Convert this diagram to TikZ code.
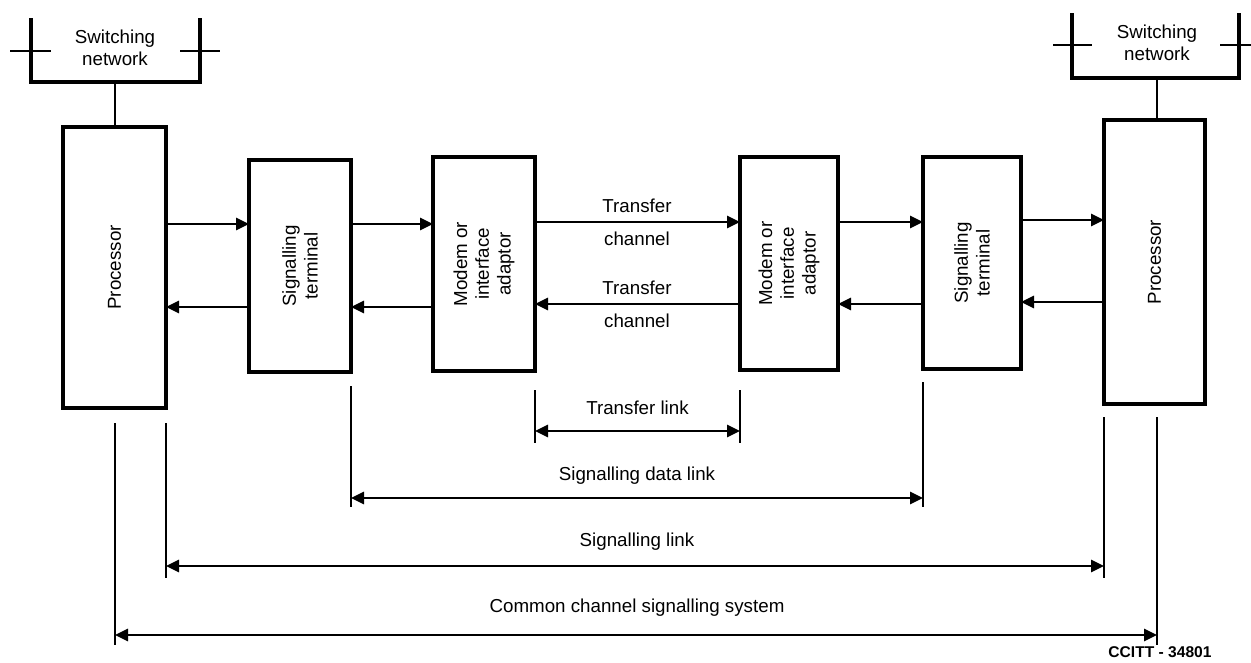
\documentclass[tikz,border=0pt]{standalone}
\usepackage{fontspec}
\setmainfont{Liberation Sans}
\usetikzlibrary{arrows.meta}
\begin{document}
\begin{tikzpicture}[x=0.03cm,y=-0.03cm,
  box/.style={draw,line width=3.2pt,inner sep=0pt,outer sep=0pt},
  boxtext/.style={rotate=90,align=center,font=\fontsize{16pt}{18.5pt}\selectfont,inner sep=0pt},
  lbl/.style={align=center,font=\fontsize{16pt}{18.5pt}\selectfont,inner sep=0pt},
  conn/.style={line width=1.6pt},
  arr/.style={conn,-{Triangle[length=3.9mm,width=3.7mm]}},
  darr/.style={conn,{Triangle[length=3.9mm,width=3.7mm]}-{Triangle[length=3.9mm,width=3.7mm]}},
  netline/.style={line width=3.2pt},
  tick/.style={line width=2.2pt}]
\useasboundingbox (0,0) rectangle (1251,662);

% boxes
\node[box,minimum width=103*0.03cm,minimum height=281*0.03cm] (p1) at (114.5,267.5) {};
\node[boxtext] (p1t) at (p1.center) {Processor};
\node[box,minimum width=102*0.03cm,minimum height=212*0.03cm] (st1) at (300,266) {};
\node[boxtext] (st1t) at (st1.center) {Signalling\\terminal};
\node[box,minimum width=102*0.03cm,minimum height=214*0.03cm] (m1) at (484,264) {};
\node[boxtext] (m1t) at (m1.center) {Modem or\\interface\\adaptor};
\node[box,minimum width=98*0.03cm,minimum height=213*0.03cm] (m2) at (789,263.5) {};
\node[boxtext] (m2t) at (m2.center) {Modem or\\interface\\adaptor};
\node[box,minimum width=98*0.03cm,minimum height=212*0.03cm] (st2) at (972,263) {};
\node[boxtext] (st2t) at (st2.center) {Signalling\\terminal};
\node[box,minimum width=101*0.03cm,minimum height=284*0.03cm] (p2) at (1154.5,262) {};
\node[boxtext] (p2t) at (p2.center) {Processor};

% switching networks
\draw[netline] (31,18) -- (31,82) -- (200,82) -- (200,18);
\draw[tick] (10,51) -- (51,51);
\draw[tick] (180,51) -- (220,51);
\node[lbl] (sw1) at (115,48) {Switching\\network};
\coordinate (sw1b) at (115,82);
\draw[conn] (sw1b) -- (sw1b |- p1.north);

\draw[netline] (1072,13) -- (1072,78) -- (1239,78) -- (1239,13);
\draw[tick] (1053,45) -- (1092,45);
\draw[tick] (1220,45) -- (1251,45);
\node[lbl] (sw2) at (1157,43) {Switching\\network};
\coordinate (sw2b) at (1157,78);
\draw[conn] (sw2b) -- (sw2b |- p2.north);

% forward arrows
\draw[arr] (p1.east |- 0,224) -- (st1.west |- 0,224);
\draw[arr] (st1.east |- 0,224) -- (m1.west |- 0,224);
\draw[arr] (m1.east |- 0,222) -- (m2.west |- 0,222);
\draw[arr] (m2.east |- 0,222) -- (st2.west |- 0,222);
\draw[arr] (st2.east |- 0,220) -- (p2.west |- 0,220);
% backward arrows
\draw[arr] (p2.west |- 0,302) -- (st2.east |- 0,302);
\draw[arr] (st2.west |- 0,304) -- (m2.east |- 0,304);
\draw[arr] (m2.west |- 0,304) -- (m1.east |- 0,304);
\draw[arr] (m1.west |- 0,307) -- (st1.east |- 0,307);
\draw[arr] (st1.west |- 0,307) -- (p1.east |- 0,307);

% transfer channel labels
\node[lbl] (tc1a) at (637,206) {Transfer};
\node[lbl] (tc1b) at (637,239) {channel};
\node[lbl] (tc2a) at (637,288) {Transfer};
\node[lbl] (tc2b) at (637,321) {channel};

% dimension lines
% transfer link
\coordinate (tlA1) at (535,390); \coordinate (tlA2) at (535,443);
\coordinate (tlB1) at (740,390); \coordinate (tlB2) at (740,443);
\draw[conn] (tlA1) -- (tlA2);
\draw[conn] (tlB1) -- (tlB2);
\draw[darr] (tlA1 |- 0,431) -- (tlB1 |- 0,431);
\node[lbl] (tl) at (637.5,408) {Transfer link};

% signalling data link
\coordinate (sdA1) at (351,386); \coordinate (sdA2) at (351,507);
\coordinate (sdB1) at (923,382); \coordinate (sdB2) at (923,507);
\draw[conn] (sdA1) -- (sdA2);
\draw[conn] (sdB1) -- (sdB2);
\draw[darr] (sdA1 |- 0,498) -- (sdB1 |- 0,498);
\node[lbl] (sd) at (637,476) {Signalling data link};

% signalling link
\coordinate (slA1) at (166,423); \coordinate (slA2) at (166,578);
\coordinate (slB1) at (1104,417); \coordinate (slB2) at (1104,578);
\draw[conn] (slA1) -- (slA2);
\draw[conn] (slB1) -- (slB2);
\draw[darr] (slA1 |- 0,566) -- (slB1 |- 0,566);
\node[lbl] (sl) at (637,542) {Signalling link};

% common channel signalling system
\coordinate (ccA1) at (115,423); \coordinate (ccA2) at (115,645);
\coordinate (ccB1) at (1157,417); \coordinate (ccB2) at (1157,645);
\draw[conn] (ccA1) -- (ccA2);
\draw[conn] (ccB1) -- (ccB2);
\draw[darr] (ccA1 |- 0,635) -- (ccB1 |- 0,635);
\node[lbl] (cc) at (637,608) {Common channel signalling system};

\node[font=\fontsize{13.3pt}{15pt}\selectfont\bfseries,inner sep=0pt] (id) at (1160,652) {CCITT - 34801};
\end{tikzpicture}
\end{document}
